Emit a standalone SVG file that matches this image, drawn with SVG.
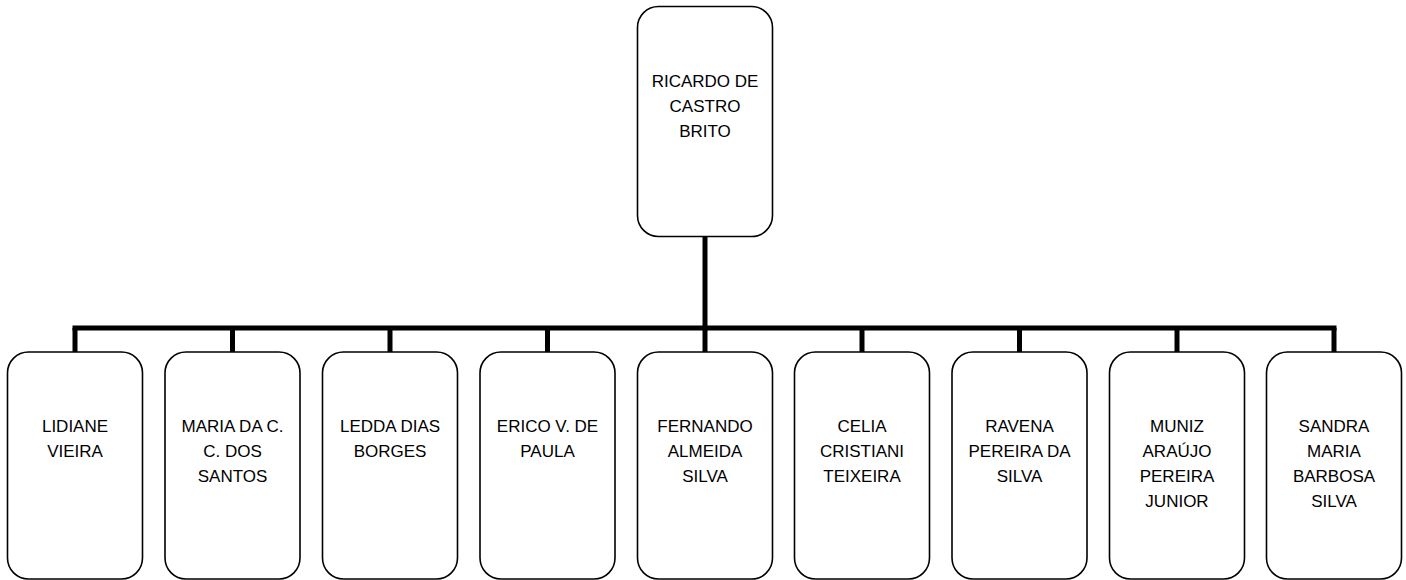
<svg xmlns="http://www.w3.org/2000/svg" width="1406" height="580" viewBox="0 0 1406 580">
<style>
.box{fill:#fff;stroke:#000;stroke-width:1.6}
.lbl{font-family:"Liberation Sans",Arial,sans-serif;font-size:17px;fill:#000;text-anchor:middle}
.conn{stroke:#000;stroke-width:5;fill:none;stroke-linecap:butt}
</style>
<g id="connectors">
<line class="conn" x1="705" y1="237" x2="705" y2="330.5"/>
<line class="conn" x1="72.5" y1="328" x2="1336.5" y2="328"/>
<line class="conn" x1="75" y1="328" x2="75" y2="352"/>
<line class="conn" x1="232.5" y1="328" x2="232.5" y2="352"/>
<line class="conn" x1="390" y1="328" x2="390" y2="352"/>
<line class="conn" x1="547.5" y1="328" x2="547.5" y2="352"/>
<line class="conn" x1="705" y1="328" x2="705" y2="352"/>
<line class="conn" x1="862" y1="328" x2="862" y2="352"/>
<line class="conn" x1="1019.5" y1="328" x2="1019.5" y2="352"/>
<line class="conn" x1="1177" y1="328" x2="1177" y2="352"/>
<line class="conn" x1="1334" y1="328" x2="1334" y2="352"/>
</g>
<g id="n0">
<rect class="box" x="637.5" y="6.5" width="135" height="230" rx="21"/>
<text class="lbl" x="705" y="87">RICARDO DE</text>
<text class="lbl" x="705" y="112">CASTRO</text>
<text class="lbl" x="705" y="137">BRITO</text>
</g>
<g id="n1">
<rect class="box" x="7.5" y="352" width="135" height="227" rx="21"/>
<text class="lbl" x="75" y="432">LIDIANE</text>
<text class="lbl" x="75" y="457">VIEIRA</text>
</g>
<g id="n2">
<rect class="box" x="165" y="352" width="135" height="227" rx="21"/>
<text class="lbl" x="232.5" y="432">MARIA DA C.</text>
<text class="lbl" x="232.5" y="457">C. DOS</text>
<text class="lbl" x="232.5" y="482">SANTOS</text>
</g>
<g id="n3">
<rect class="box" x="322.5" y="352" width="135" height="227" rx="21"/>
<text class="lbl" x="390" y="432">LEDDA DIAS</text>
<text class="lbl" x="390" y="457">BORGES</text>
</g>
<g id="n4">
<rect class="box" x="480" y="352" width="135" height="227" rx="21"/>
<text class="lbl" x="547.5" y="432">ERICO V. DE</text>
<text class="lbl" x="547.5" y="457">PAULA</text>
</g>
<g id="n5">
<rect class="box" x="637.5" y="352" width="135" height="227" rx="21"/>
<text class="lbl" x="705" y="432">FERNANDO</text>
<text class="lbl" x="705" y="457">ALMEIDA</text>
<text class="lbl" x="705" y="482">SILVA</text>
</g>
<g id="n6">
<rect class="box" x="794.5" y="352" width="135" height="227" rx="21"/>
<text class="lbl" x="862" y="432">CELIA</text>
<text class="lbl" x="862" y="457">CRISTIANI</text>
<text class="lbl" x="862" y="482">TEIXEIRA</text>
</g>
<g id="n7">
<rect class="box" x="952" y="352" width="135" height="227" rx="21"/>
<text class="lbl" x="1019.5" y="432">RAVENA</text>
<text class="lbl" x="1019.5" y="457">PEREIRA DA</text>
<text class="lbl" x="1019.5" y="482">SILVA</text>
</g>
<g id="n8">
<rect class="box" x="1109.5" y="352" width="135" height="227" rx="21"/>
<text class="lbl" x="1177" y="432">MUNIZ</text>
<text class="lbl" x="1177" y="457">ARAÚJO</text>
<text class="lbl" x="1177" y="482">PEREIRA</text>
<text class="lbl" x="1177" y="507">JUNIOR</text>
</g>
<g id="n9">
<rect class="box" x="1266.5" y="352" width="135" height="227" rx="21"/>
<text class="lbl" x="1334" y="432">SANDRA</text>
<text class="lbl" x="1334" y="457">MARIA</text>
<text class="lbl" x="1334" y="482">BARBOSA</text>
<text class="lbl" x="1334" y="507">SILVA</text>
</g>
</svg>
